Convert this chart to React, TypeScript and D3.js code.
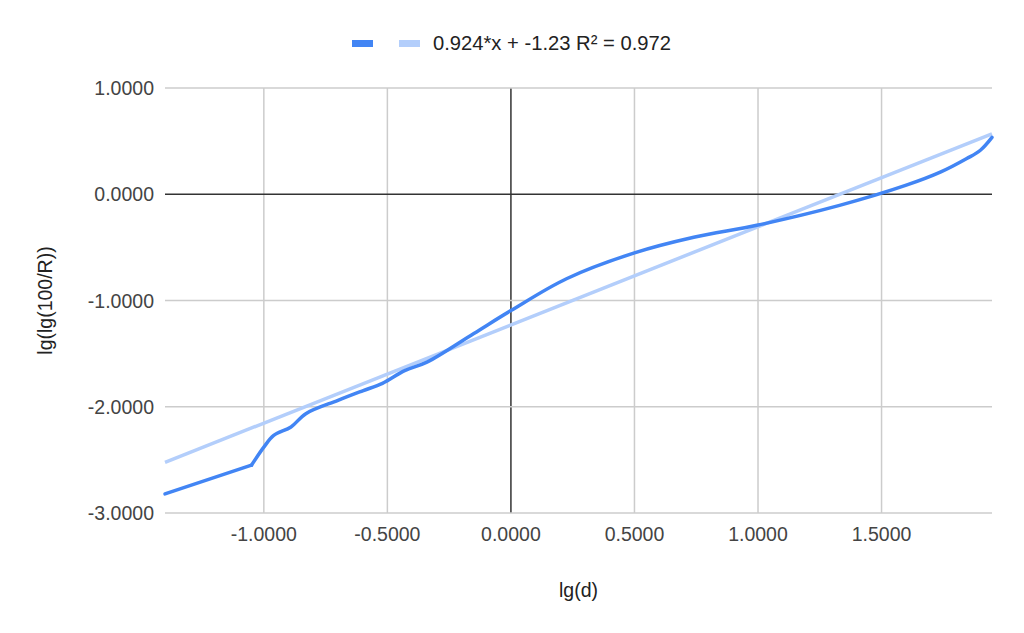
import { useEffect, useRef } from "react"
import * as d3 from "d3"

// lg(d) values
const xValues = [
  -1.4, -1.05, -1.0, -0.96, -0.89, -0.83, -0.7, -0.6, -0.52, -0.43, -0.34, -0.15, 0.0, 0.225, 0.5, 0.74, 1.0,
  1.33, 1.6, 1.74, 1.845, 1.9, 1.947,
]
// lg(lg(100/R)) values
const yValues = [
  -2.82, -2.55, -2.38, -2.27, -2.19, -2.065, -1.94, -1.85, -1.78, -1.66, -1.58, -1.31, -1.095, -0.795, -0.552,
  -0.405, -0.29, -0.105, 0.085, 0.21, 0.336, 0.414, 0.535,
]
const xTicks = [-1, -0.5, 0, 0.5, 1, 1.5]
const yTicks = [-3, -2, -1, 0, 1]
const trendSlope = 0.924
const trendIntercept = -1.23
const trendLabel = "0.924*x + -1.23 R² = 0.972"
const xTitle = "lg(d)"
const yTitle = "lg(lg(100/R))"

const fmt = (d: number) => d3.format(".4f")(d).replace("\u2212", "-")

export default function App() {
  const svgRef = useRef<SVGSVGElement>(null)

  useEffect(() => {
    if (!svgRef.current) return
    const svg = d3.select(svgRef.current)
    svg.selectAll("*").remove()

    const left = 165
    const right = 992
    const top = 88
    const bottom = 513
    const font = "Arial, 'Liberation Sans', sans-serif"

    const x = d3.scaleLinear().domain([-1.4, 1.947]).range([left, right])
    const y = d3.scaleLinear().domain([-3, 1]).range([bottom, top])

    // grid
    svg
      .selectAll(".vgrid")
      .data(xTicks)
      .enter()
      .append("line")
      .attr("x1", (d) => x(d))
      .attr("x2", (d) => x(d))
      .attr("y1", top)
      .attr("y2", bottom)
      .style("stroke", (d) => (d === 0 ? "#333" : "#ccc"))
      .style("stroke-width", "1.5px")

    svg
      .selectAll(".hgrid")
      .data(yTicks)
      .enter()
      .append("line")
      .attr("x1", left)
      .attr("x2", right)
      .attr("y1", (d) => y(d))
      .attr("y2", (d) => y(d))
      .style("stroke", (d) => (d === 0 ? "#333" : "#ccc"))
      .style("stroke-width", "1.5px")

    // tick labels
    svg
      .selectAll(".xtick")
      .data(xTicks)
      .enter()
      .append("text")
      .attr("x", (d) => x(d))
      .attr("y", 541)
      .attr("text-anchor", "middle")
      .text(fmt)
      .style("font-family", font)
      .style("font-size", "19.5px")
      .style("fill", "#444")

    svg
      .selectAll(".ytick")
      .data(yTicks)
      .enter()
      .append("text")
      .attr("x", 154)
      .attr("y", (d) => y(d))
      .attr("dy", "0.36em")
      .attr("text-anchor", "end")
      .text(fmt)
      .style("font-family", font)
      .style("font-size", "19.5px")
      .style("fill", "#444")

    // axis titles
    svg
      .append("text")
      .attr("x", (left + right) / 2)
      .attr("y", 597)
      .attr("text-anchor", "middle")
      .text(xTitle)
      .style("font-family", font)
      .style("font-size", "19.5px")
      .style("fill", "#222")

    svg
      .append("text")
      .attr("transform", `translate(52,${(top + bottom) / 2}) rotate(-90)`)
      .attr("text-anchor", "middle")
      .text(yTitle)
      .style("font-family", font)
      .style("font-size", "19.5px")
      .style("fill", "#222")

    // trendline
    const domain = x.domain()
    svg
      .append("line")
      .attr("x1", x(domain[0]))
      .attr("y1", y(trendSlope * domain[0] + trendIntercept))
      .attr("x2", x(domain[1]))
      .attr("y2", y(trendSlope * domain[1] + trendIntercept))
      .style("stroke", "#b3cefb")
      .style("stroke-width", "3.5px")

    // data line: straight lead-in, smooth afterwards
    const points: [number, number][] = xValues.map((v, i) => [v, yValues[i]])
    const linear = d3
      .line<[number, number]>()
      .x((d) => x(d[0]))
      .y((d) => y(d[1]))
    const smooth = d3
      .line<[number, number]>()
      .x((d) => x(d[0]))
      .y((d) => y(d[1]))
      .curve(d3.curveCatmullRom.alpha(0.5))

    const segs = [
      { pts: points.slice(0, 2), gen: linear },
      { pts: points.slice(1), gen: smooth },
    ]
    svg
      .selectAll(".series")
      .data(segs)
      .enter()
      .append("path")
      .attr("d", (d) => d.gen(d.pts))
      .style("fill", "none")
      .style("stroke", "#4285f4")
      .style("stroke-width", "3.5px")
      .style("stroke-linejoin", "round")
      .style("stroke-linecap", "round")

    // legend
    svg.append("rect").attr("x", 352).attr("y", 40).attr("width", 21).attr("height", 7).style("fill", "#4285f4")
    svg.append("rect").attr("x", 399).attr("y", 40).attr("width", 21).attr("height", 7).style("fill", "#b3cefb")
    svg
      .append("text")
      .attr("x", 433)
      .attr("y", 50)
      .text(trendLabel)
      .style("font-family", font)
      .style("font-size", "20.2px")
      .style("fill", "#222")
  }, [])

  return (
    <svg
      ref={svgRef}
      width={1024}
      height={633}
      style={{ position: "absolute", left: 0, top: 0, background: "#fff" }}
    ></svg>
  )
}
